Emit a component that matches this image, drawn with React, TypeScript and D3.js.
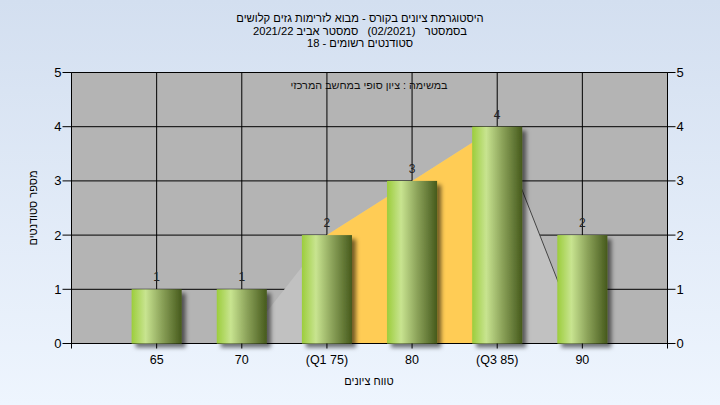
import React from "react";
import * as d3 from "d3";

const categories = [65, 70, 75, 80, 85, 90];
const categoryLabels = ["65", "70", "(Q1 75)", "80", "(Q3 85)", "90"];
const counts = [1, 1, 2, 3, 4, 2];
const curveX = [70, 75, 80, 85, 90];
const curveY = [0, 2, 3, 4, 0];
const q1 = 75;
const q3 = 85;
const yTicks = [0, 1, 2, 3, 4, 5];
const titleLines = [
  "היסטוגרמת ציונים בקורס - מבוא לזרימות גזים קלושים",
  "בסמסטר\u00a0\u00a0 (02/2021)\u00a0\u00a0 סמסטר אביב 2021/22",
  "סטודנטים רשומים - 18",
];
const subtitle = "במשימה : ציון סופי במחשב המרכזי";
const xTitle = "טווח ציונים";
const yTitle = "מספר סטודנטים";

const W = 720;
const H = 405;
const FONT = "'Liberation Sans', Arial, sans-serif";

export default function App() {
  const x = d3.scaleLinear().domain([60, 95]).range([71.5, 667.5]);
  const y = d3.scaleLinear().domain([0, 5]).range([343.5, 72.5]);
  const barHalf = 1.47;

  const pts: [number, number][] = curveX.map((v, i) => [x(v), y(curveY[i])]);
  const area = d3
    .area<[number, number]>()
    .x((d) => d[0])
    .y0(y(0))
    .y1((d) => d[1]);
  const areaPath = area(pts) || "";
  const lastSeg = d3.line()([pts[3], pts[4]]) || "";

  return (
    <svg
      width={W}
      height={H}
      style={{ position: "absolute", left: 0, top: 0, display: "block" }}
      fontFamily={FONT}
    >
      <defs>
        <linearGradient id="bg" x1="0" y1="0" x2="0" y2="1">
          <stop offset="0%" stopColor="#d3dff0" />
          <stop offset="100%" stopColor="#eef5fe" />
        </linearGradient>
        <linearGradient id="bar" x1="0" y1="0" x2="1" y2="0">
          <stop offset="0%" stopColor="#9ccd3c" />
          <stop offset="28%" stopColor="#c8e490" />
          <stop offset="60%" stopColor="#8ca35a" />
          <stop offset="100%" stopColor="#465a1c" />
        </linearGradient>
        <clipPath id="midClip">
          <rect x={x(q1)} y={0} width={x(q3) - x(q1)} height={H} />
        </clipPath>
        <clipPath id="plotClip">
          <rect x={x(60)} y={y(5)} width={x(95) - x(60)} height={y(0) - y(5)} />
        </clipPath>
        <filter id="shadow" x="-20%" y="-20%" width="150%" height="150%">
          <feDropShadow dx="4" dy="4" stdDeviation="2" floodColor="#000" floodOpacity="0.55" />
        </filter>
      </defs>
      <rect x={0} y={0} width={W} height={H} fill="url(#bg)" />

      {/* plot background */}
      <rect x={x(60)} y={y(5)} width={x(95) - x(60)} height={y(0) - y(5)} fill="#b4b4b4" />

      {/* grid lines */}
      {yTicks.map((t) => (
        <line key={"gy" + t} x1={x(60)} x2={x(95)} y1={y(t)} y2={y(t)} stroke="#000" strokeWidth={1} />
      ))}
      {categories.map((c) => (
        <line key={"gx" + c} x1={x(c)} x2={x(c)} y1={y(5)} y2={y(0)} stroke="#000" strokeWidth={1} />
      ))}

      {/* distribution area */}
      <g clipPath="url(#plotClip)">
        <path d={areaPath} fill="#c1c1c1" />
        <path d={areaPath} fill="#ffcc55" clipPath="url(#midClip)" />
        <path d={lastSeg} fill="none" stroke="#444" strokeWidth={1} />
      </g>

      {/* axes frame */}
      <line x1={x(60)} x2={x(60)} y1={y(5)} y2={y(0) + 5} stroke="#000" />
      <line x1={x(95)} x2={x(95)} y1={y(5)} y2={y(0) + 5} stroke="#000" />
      <line x1={x(60)} x2={x(95)} y1={y(0)} y2={y(0)} stroke="#000" />
      <line x1={x(60)} x2={x(95)} y1={y(5)} y2={y(5)} stroke="#000" />

      {/* bars */}
      {categories.map((c, i) => (
        <rect
          key={"b" + c}
          x={x(c - barHalf)}
          y={y(counts[i])}
          width={x(c + barHalf) - x(c - barHalf)}
          height={y(0) - y(counts[i])}
          fill="url(#bar)"
          filter="url(#shadow)"
        />
      ))}

      {/* bar value labels */}
      {categories.map((c, i) => (
        <text
          key={"v" + c}
          x={x(c)}
          y={y(counts[i]) - 8}
          textAnchor="middle"
          fontSize={12}
          fill="#222"
        >
          {counts[i]}
        </text>
      ))}

      {/* y ticks left & right */}
      {yTicks.map((t) => (
        <g key={"yt" + t}>
          <line x1={x(60) - 9} x2={x(60)} y1={y(t)} y2={y(t)} stroke="#000" />
          <text x={x(60) - 10} y={y(t) + 4.5} textAnchor="end" fontSize={13} fill="#000">
            {t}
          </text>
          <line x1={x(95)} x2={x(95) + 8} y1={y(t)} y2={y(t)} stroke="#000" />
          <text x={x(95) + 9} y={y(t) + 4.5} textAnchor="start" fontSize={13} fill="#000">
            {t}
          </text>
        </g>
      ))}

      {/* x ticks */}
      {categories.map((c, i) => (
        <g key={"xt" + c}>
          <line x1={x(c)} x2={x(c)} y1={y(0)} y2={y(0) + 5} stroke="#000" />
          <text x={x(c)} y={364} textAnchor="middle" fontSize={12.5} fill="#000">
            {categoryLabels[i]}
          </text>
        </g>
      ))}

      {/* titles */}
      {titleLines.map((t, i) => (
        <text
          key={"t" + i}
          x={360}
          y={22 + i * 12.5}
          textAnchor="middle"
          direction="rtl"
          fontSize={11.2}
          fill="#000"
        >
          {t}
        </text>
      ))}
      <text x={369} y={89} textAnchor="middle" direction="rtl" fontSize={10.8} fill="#111">
        {subtitle}
      </text>
      <text x={369} y={385} textAnchor="middle" direction="rtl" fontSize={11} fill="#000">
        {xTitle}
      </text>
      <text
        transform={`translate(37,${(y(0) + y(5)) / 2}) rotate(-90)`}
        textAnchor="middle"
        direction="rtl"
        fontSize={11}
        fill="#000"
      >
        {yTitle}
      </text>
    </svg>
  );
}
